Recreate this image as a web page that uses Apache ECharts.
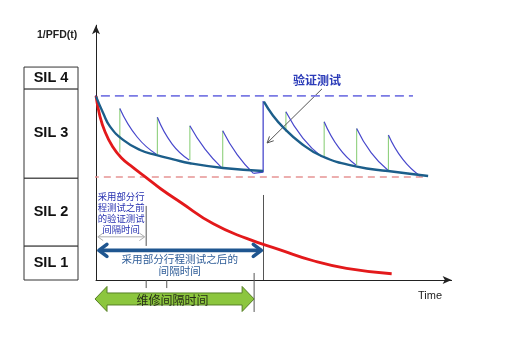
<!DOCTYPE html>
<html>
<head>
<meta charset="utf-8">
<script src="https://cdn.jsdelivr.net/npm/echarts@6/dist/echarts.min.js"></script>
<style>
  html, body { margin: 0; padding: 0; background: #ffffff; }
  #chart { width: 508px; height: 344px; }
</style>
</head>
<body>
<div id="chart"></div>
<script>
// SIL bands on the 1/PFD scale
const silLabels = ['SIL 1', 'SIL 2', 'SIL 3', 'SIL 4'];
const silBounds = [0, 13.1, 39.2, 73.5, 81.9];

// Target levels (dashed) and their extents in time
const upperLevel = 70.8;
const upperSpan = [-6.4, 87.8];
const lowerLevel = 39.6;
const lowerSpan = [-7.8, 90.6];

// 1/PFD without any testing
const noTestT = [0, 1.0, 2.5, 4.5, 7.0, 10.3, 14.0, 18.0, 23.3, 32.5, 41.7, 51.0, 60.2, 69.4, 81.9];
const noTestV = [70.8, 63.5, 57.0, 51.5, 47.0, 43.2, 39.3, 35.0, 30.0, 21.6, 16.0, 11.6, 7.4, 4.5, 2.4];

// Average 1/PFD with partial stroke testing, first and second proof-test cycle
const avg1T = [0, 2.0, 3.9, 7.6, 12.2, 16.8, 21.4, 26.0, 35.2, 46.3];
const avg1V = [70.6, 64.1, 59.0, 53.8, 50.0, 48.0, 46.4, 44.9, 43.1, 41.9];
const avg2T = [46.5, 49.0, 51.8, 56.5, 62.6, 72.3, 80.9, 92.0];
const avg2V = [68.6, 63.3, 58.8, 52.9, 47.6, 43.6, 41.9, 40.0];

// Sawtooth after each partial stroke test: [time, value] per decay segment
const sawSegments = [
  [[6.6, 66.0], [11.4, 55.0], [16.8, 48.3]],
  [[17.0, 62.6], [21.1, 52.3], [25.8, 46.2]],
  [[26.0, 59.3], [30.2, 50.3], [34.8, 43.2]],
  [[35.1, 57.4], [39.1, 48.2], [43.6, 41.0]],
  [[52.6, 64.7], [57.3, 54.6], [62.5, 47.4]],
  [[63.2, 60.9], [67.3, 50.8], [72.0, 44.2]],
  [[72.2, 58.3], [76.2, 49.0], [80.8, 42.3]],
  [[81.0, 55.8], [85.0, 46.4], [89.8, 40.0]]
];
// Full proof test: restore at the end of the first cycle
const proofTestT = [43.6, 46.3, 46.3];
const proofTestV = [41.0, 41.5, 68.8];

// Partial stroke test jumps
const partialT = [6.6, 17.0, 26.0, 35.1, 52.6, 63.2, 72.2, 81.0];
const partialLo = [49.0, 48.3, 46.2, 43.2, 57.0, 47.4, 44.2, 42.3];
const partialHi = [66.0, 62.6, 59.3, 57.4, 64.7, 60.9, 58.3, 55.8];

// Intervals on the time axis
const intervalBefore = [0, 13.9];
const intervalAfter = [0, 46.4];
const maintenanceInterval = [0, 43.8];
const tickTimes = [13.9, 19.6];

const zip = (xs, ys) => xs.map((x, i) => [x, ys[i]]);
const CJK = '"Noto Sans CJK SC", sans-serif';
const LAT = '"Liberation Sans", Arial, sans-serif';

const chart = echarts.init(document.getElementById('chart'), null, { renderer: 'canvas' });

function chevron(x, y, dir, w, h) {
  return [[x - dir * w, y - h], [x, y], [x - dir * w, y + h]];
}

function doubleArrow(api, t0, t1, v, opt) {
  const a = api.coord([t0, v]);
  const b = api.coord([t1, v]);
  const style = { stroke: opt.color, lineWidth: opt.width, fill: null, lineCap: 'round', lineJoin: 'round' };
  return [
    { type: 'line', shape: { x1: a[0] + 1, y1: a[1], x2: b[0] - 1, y2: b[1] }, style: style },
    { type: 'polyline', shape: { points: chevron(a[0], a[1], -1, opt.hw, opt.hh) }, style: style },
    { type: 'polyline', shape: { points: chevron(b[0], b[1], 1, opt.hw, opt.hh) }, style: style }
  ];
}

const option = {
  animation: false,
  backgroundColor: '#ffffff',
  grid: [
    { left: 96, top: 25.2, width: 355.6, height: 254.8 },
    { left: 24, top: 25.2, width: 54, height: 254.8 }
  ],
  xAxis: [
    {
      type: 'value', gridIndex: 0, min: 0, max: 98.5,
      axisLine: { show: true, symbol: ['none', 'arrow'], symbolSize: [6, 9], lineStyle: { color: '#222', width: 1 } },
      axisTick: { show: false }, axisLabel: { show: false }, splitLine: { show: false }
    },
    { type: 'value', gridIndex: 1, min: 0, max: 1, show: false }
  ],
  yAxis: [
    {
      type: 'value', gridIndex: 0, min: 0, max: 98,
      axisLine: { show: true, symbol: ['none', 'arrow'], symbolSize: [6, 9], lineStyle: { color: '#222', width: 1 } },
      axisTick: { show: false }, axisLabel: { show: false }, splitLine: { show: false }
    },
    { type: 'value', gridIndex: 1, min: 0, max: 98, show: false }
  ],
  graphic: [
    { type: 'text', left: 37, top: 30, style: { text: '1/PFD(t)', font: 'bold 10.5px ' + LAT, fill: '#222' } },
    { type: 'text', left: 418, top: 290, style: { text: 'Time', font: '11px ' + LAT, fill: '#222' } }
  ],
  series: [
    // SIL table
    {
      type: 'custom', xAxisIndex: 1, yAxisIndex: 1, silent: true,
      data: silLabels.map((s, i) => [0, silBounds[i], silBounds[i + 1]]),
      encode: { x: 0, y: [1, 2] },
      renderItem: function (params, api) {
        const i = params.dataIndex;
        const p0 = api.coord([0, silBounds[i + 1]]);
        const p1 = api.coord([1, silBounds[i]]);
        return {
          type: 'group',
          children: [
            { type: 'rect', shape: { x: p0[0], y: p0[1], width: p1[0] - p0[0], height: p1[1] - p0[1] },
              style: { fill: '#fff', stroke: '#333', lineWidth: 1 } },
            { type: 'text', style: { text: silLabels[i], x: (p0[0] + p1[0]) / 2, y: (p0[1] + p1[1]) / 2,
              align: 'center', verticalAlign: 'middle', font: 'bold 14.5px ' + LAT, fill: '#111' } }
          ]
        };
      }
    },
    // Target levels
    {
      type: 'line', clip: false, symbol: 'none', silent: true,
      data: [[upperSpan[0], upperLevel], [upperSpan[1], upperLevel]],
      lineStyle: { color: '#7a7ae4', width: 1.6, type: [9, 5] }
    },
    {
      type: 'line', clip: false, symbol: 'none', silent: true,
      data: [[lowerSpan[0], lowerLevel], [lowerSpan[1], lowerLevel]],
      lineStyle: { color: '#e69494', width: 1.6, type: [7, 5] }
    },
    // No testing
    {
      type: 'line', symbol: 'none', smooth: 0.5, silent: true,
      data: zip(noTestT, noTestV),
      lineStyle: { color: '#e3191b', width: 2.8 }
    },
    // Partial test jumps
    {
      type: 'custom', silent: true,
      data: partialT.map((t, i) => [t, partialLo[i], partialHi[i]]),
      encode: { x: 0, y: [1, 2] },
      renderItem: function (params, api) {
        const a = api.coord([api.value(0), api.value(1)]);
        const b = api.coord([api.value(0), api.value(2)]);
        return { type: 'line', shape: { x1: a[0], y1: a[1], x2: b[0], y2: b[1] }, style: { stroke: '#8ed07c', lineWidth: 1.1 } };
      }
    },
    // Sawtooth decay after each partial test
    ...sawSegments.map(seg => ({
      type: 'line', symbol: 'none', smooth: 0.5, silent: true,
      data: seg, lineStyle: { color: '#4848cc', width: 1.2 }
    })),
    {
      type: 'line', symbol: 'none', silent: true,
      data: zip(proofTestT, proofTestV), lineStyle: { color: '#4848cc', width: 1.3 }
    },
    // Average with partial testing
    {
      type: 'line', symbol: 'none', smooth: 0.5, silent: true,
      data: zip(avg1T, avg1V), lineStyle: { color: '#1c5e8a', width: 2.4 }
    },
    {
      type: 'line', symbol: 'none', smooth: 0.5, silent: true,
      data: zip(avg2T, avg2V), lineStyle: { color: '#1c5e8a', width: 2.4 }
    },
    // Reference verticals and ticks
    {
      type: 'custom', silent: true, clip: false,
      data: [[0]],
      renderItem: function (params, api) {
        const seg = (t, v0, v1) => {
          const a = api.coord([t, v0]), b = api.coord([t, v1]);
          return { type: 'line', shape: { x1: a[0], y1: a[1], x2: b[0], y2: b[1] }, style: { stroke: '#555', lineWidth: 1 } };
        };
        return {
          type: 'group',
          children: [
            seg(intervalBefore[1], 13.1, 28.5),
            seg(intervalAfter[1], 0, 32.7),
            seg(maintenanceInterval[1], 2.7, -12.3),
            ...tickTimes.map(t => seg(t, 0, -3.1))
          ]
        };
      }
    },
    // Interval before partial testing
    {
      type: 'custom', silent: true, clip: false,
      data: [intervalBefore],
      renderItem: function (params, api) {
        const v = 16.6;
        const a = api.coord([intervalBefore[0], v]);
        const b = api.coord([intervalBefore[1], v]);
        return {
          type: 'group',
          children: doubleArrow(api, intervalBefore[0] + 0.5, intervalBefore[1] - 0.4, v, { color: '#adadad', width: 1, hw: 5, hh: 3.5 }).concat([
            { type: 'text', style: { text: '采用部分行\n程测试之前\n的验证测试\n间隔时间', x: (a[0] + b[0]) / 2, y: a[1] - 2,
              align: 'center', verticalAlign: 'bottom', font: '9.4px ' + CJK, lineHeight: 11, fill: '#2630b0' } }
          ])
        };
      }
    },
    // Interval after partial testing
    {
      type: 'custom', silent: true, clip: false,
      data: [intervalAfter],
      renderItem: function (params, api) {
        const v = 11.4;
        const a = api.coord([intervalAfter[0], v]);
        const b = api.coord([intervalAfter[1], v]);
        return {
          type: 'group',
          children: doubleArrow(api, intervalAfter[0] + 0.8, intervalAfter[1] - 0.6, v, { color: '#1f5690', width: 3.6, hw: 8, hh: 6 }).concat([
            { type: 'text', style: { text: '采用部分行程测试之后的\n间隔时间', x: (a[0] + b[0]) / 2, y: a[1] + 3,
              align: 'center', verticalAlign: 'top', font: '10.6px ' + CJK, lineHeight: 11.5, fill: '#2f5d98' } }
          ])
        };
      }
    },
    // Maintenance interval
    {
      type: 'custom', silent: true, clip: false,
      data: [maintenanceInterval],
      renderItem: function (params, api) {
        const v = -7.3;
        const a = api.coord([maintenanceInterval[0], v]);
        const b = api.coord([maintenanceInterval[1], v]);
        const L = a[0] - 1, R = b[0], cy = a[1];
        const hl = 12, hh = 12.5, sh = 6;
        return {
          type: 'group',
          children: [
            { type: 'polygon', shape: { points: [
                [L, cy], [L + hl, cy - hh], [L + hl, cy - sh], [R - hl, cy - sh], [R - hl, cy - hh],
                [R, cy], [R - hl, cy + hh], [R - hl, cy + sh], [L + hl, cy + sh], [L + hl, cy + hh]
              ] }, style: { fill: '#8cc63e', stroke: '#567f26', lineWidth: 1 } },
            { type: 'text', style: { text: '维修间隔时间', x: (L + R) / 2 - 2, y: cy + 1,
              align: 'center', verticalAlign: 'middle', font: '12px ' + CJK, fill: '#262d18' } }
          ]
        };
      }
    },
    // Proof test callout
    {
      type: 'custom', silent: true, clip: false,
      data: [[62.6, 73.5]],
      renderItem: function (params, api) {
        const a = api.coord([62.6, 73.5]);
        const b = api.coord([47.4, 52.7]);
        const ang = Math.atan2(b[1] - a[1], b[0] - a[0]);
        const hl = 7, spread = 0.45;
        const h1 = [b[0] - hl * Math.cos(ang - spread), b[1] - hl * Math.sin(ang - spread)];
        const h2 = [b[0] - hl * Math.cos(ang + spread), b[1] - hl * Math.sin(ang + spread)];
        const t = api.coord([61.2, 76.9]);
        return {
          type: 'group',
          children: [
            { type: 'line', shape: { x1: a[0], y1: a[1], x2: b[0], y2: b[1] }, style: { stroke: '#555', lineWidth: 1 } },
            { type: 'polyline', shape: { points: [h1, b, h2] }, style: { stroke: '#555', lineWidth: 1, fill: null } },
            { type: 'text', style: { text: '验证测试', x: t[0], y: t[1], align: 'center', verticalAlign: 'middle',
              font: 'bold 12px ' + CJK, fill: '#2b3bb8' } }
          ]
        };
      }
    }
  ]
};

chart.setOption(option);
</script>
</body>
</html>
